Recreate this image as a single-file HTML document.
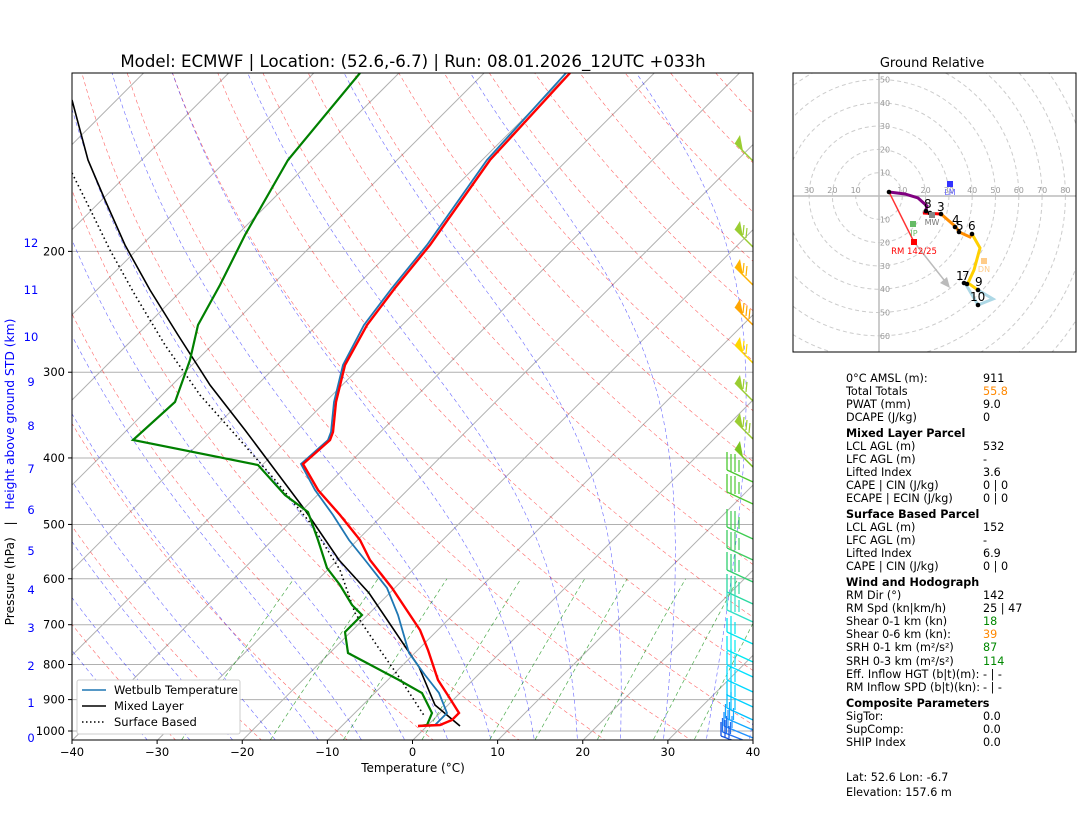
<!DOCTYPE html>
<html><head><meta charset="utf-8"><style>
body{margin:0;background:#fff;width:1084px;height:813px;overflow:hidden;font-family:"Liberation Sans","DejaVu Sans",sans-serif}
svg text{font-family:"DejaVu Sans","Liberation Sans",sans-serif}
</style></head><body>
<svg id="s" width="1084" height="813" xmlns="http://www.w3.org/2000/svg">
<defs><clipPath id="c"><rect x="72" y="73" width="681" height="667"/></clipPath>
<clipPath id="h"><rect x="793" y="73" width="283" height="279"/></clipPath></defs>
<g id="bg" clip-path="url(#c)"></g>
<g id="fg" clip-path="url(#c)"></g>
<rect x="72" y="73" width="681" height="667" fill="none" stroke="#000" stroke-width="1"/>
<g id="ax" font-size="11.5"></g>
<text x="413" y="67" font-size="16.6" text-anchor="middle">Model: ECMWF | Location: (52.6,-6.7) | Run: 08.01.2026_12UTC +033h</text>
<text x="413" y="772" font-size="12" text-anchor="middle">Temperature (°C)</text>
<text transform="translate(14,472) rotate(-90)" font-size="12.3" text-anchor="middle" xml:space="preserve">Pressure (hPa)   |   <tspan fill="#00f">Height above ground STD (km)</tspan></text>
<g id="hod" clip-path="url(#h)"></g>
<rect x="793" y="73" width="283" height="279" fill="none" stroke="#000"/>
<text x="932" y="67" font-size="13" text-anchor="middle">Ground Relative</text>
<g id="leg">
<rect x="77" y="680" width="163" height="54" fill="#fff" stroke="#ccc" rx="2"/>
<line x1="82" y1="690" x2="106" y2="690" stroke="#1f77b4" stroke-width="1.5"/>
<line x1="82" y1="706" x2="106" y2="706" stroke="#000" stroke-width="1.5"/>
<line x1="82" y1="722" x2="106" y2="722" stroke="#000" stroke-width="1.5" stroke-dasharray="1.5,2.5"/>
<text x="114" y="694" font-size="11.5">Wetbulb Temperature</text>
<text x="114" y="710" font-size="11.5">Mixed Layer</text>
<text x="114" y="726" font-size="11.5">Surface Based</text>
</g>
<g id="tx" font-size="11.2"></g>
</svg>
<script>
const NS="http://www.w3.org/2000/svg";
function el(p,t,a,txt){const e=document.createElementNS(NS,t);for(const k in a)e.setAttribute(k,a[k]);if(txt!=null)e.textContent=txt;document.getElementById(p).appendChild(e);return e;}
const yP=p=>731-298*Math.log(1000/p);
const xT=(T,p)=>413+T*8.5125+(740-yP(p));
function line(g,pts,st){el(g,'polyline',Object.assign({points:pts.map(q=>q[0].toFixed(1)+','+q[1].toFixed(1)).join(' '),fill:'none'},st));}
const ps=[];for(let p=1050;p>=100;p-=10)ps.push(p);
[1000,900,800,700,600,500,400,300,200].forEach(p=>el('bg','line',{x1:72,x2:753,y1:yP(p),y2:yP(p),stroke:'#b0b0b0','stroke-width':1}));
for(let T=-120;T<=50;T+=10)line('bg',[[xT(T,1050),yP(1050)],[xT(T,100),yP(100)]],{stroke:'#b0b0b0','stroke-width':1});
for(let th=-30;th<=250;th+=10){const pts=ps.map(p=>{const T=(th+273.15)*Math.pow(p/1000,0.286)-273.15;return[xT(T,p),yP(p)]});line('bg',pts,{stroke:'#f00','stroke-width':0.6,'stroke-dasharray':'4,3',opacity:0.6});}
const es=T=>6.112*Math.exp(17.67*T/(T+243.5));
for(let T0=-30;T0<=45;T0+=5){let T=T0+273.15,pts=[];for(let p=1050;p>=100;p-=2){pts.push([xT(T-273.15,p),yP(p)]);const e=es(T-273.15),rs=0.622*e/(p-e);const d=(287*T+2.501e6*rs)/(1005+2.501e6*2.501e6*rs*0.622/(287*T*T))/p;T-=d*2;}line('bg',pts,{stroke:'#00f','stroke-width':0.6,'stroke-dasharray':'4,3',opacity:0.6});}
[0.4,1,2,4,7,10,16,24,32].forEach(w=>{const pts=[];for(let p=1050;p>=600;p-=10){const e=w/1000*p/(0.622+w/1000),l=Math.log(e/6.112);const Td=243.5*l/(17.67-l);pts.push([xT(Td,p),yP(p)]);}line('bg',pts,{stroke:'#080','stroke-width':0.7,'stroke-dasharray':'4,3',opacity:0.7});});
line('fg',[[72,173],[88,205],[110,250],[135,295],[165,345],[200,395],[240,440],[275,480],[312,525],[340,570],[355,613],[380,650],[399,677],[425,717]],{stroke:'#000','stroke-width':1.6,'stroke-dasharray':'1.5,3'});
line('fg',[[72,100],[88,160],[105,200],[125,245],[150,290],[178,335],[210,385],[245,430],[275,470],[305,510],[339,560],[369,593],[392,627],[419,667],[435,705],[460,726]],{stroke:'#000','stroke-width':1.6});
line('fg',[[360,73],[288,160],[245,235],[220,285],[198,325],[190,360],[175,402],[133,440],[258,465],[285,495],[308,512],[318,540],[327,568],[340,585],[352,605],[362,615],[345,632],[348,653],[399,680],[422,693],[432,713],[427,725],[419,726]],{stroke:'#008000','stroke-width':2.2});
line('fg',[[566,73],[487,160],[427,245],[392,288],[364,325],[343,365],[334,402],[331,432],[328,440],[301,464],[315,490],[333,515],[349,540],[365,560],[387,588],[398,615],[409,653],[425,675],[439,693],[447,713],[435,725],[419,726]],{stroke:'#1f77b4','stroke-width':1.8});
line('fg',[[570,73],[490,160],[430,245],[395,288],[367,325],[345,365],[336,402],[333,432],[330,440],[303,464],[318,490],[340,515],[360,540],[370,560],[392,588],[404,606],[420,630],[428,650],[433,665],[438,680],[449,697],[459,713],[452,720],[440,725],[418,726]],{stroke:'#f00','stroke-width':2.4});
[[146,'#9acd32'],[232,'#9acd32'],[270,'#ffb300'],[310,'#ffa500'],[348,'#ffd700'],[386,'#9acd32'],[424,'#9acd32'],[452,'#7cc520']].forEach(([y,c],i)=>{
 el('fg','line',{x1:753,y1:y+15,x2:735,y2:y-3,stroke:c,'stroke-width':1.5});
 el('fg','polygon',{points:`735,${y-3} 740,${y-11} 743,${y+5}`,fill:c});
 if(i>0&&i<7){for(let k=0;k<2+(i%3==0?1:0);k++){const bx=746+k*3-3;el('fg','line',{x1:bx,y1:y+6+k*3-3,x2:bx+1,y2:y-4+k*3-3,stroke:c,'stroke-width':1.2});}}
});
const lb=[[470,'#4cc830'],[492,'#4cc830'],[527,'#3dcc50'],[548,'#3dcc60'],[570,'#30d070'],[592,'#2ad8a0'],[610,'#30e0c8'],[632,'#00e5ee'],[650,'#00e8f0'],[665,'#00e0ff'],[680,'#00d8ff'],[695,'#00d0ff'],[708,'#00c0ff'],[718,'#10a8ff'],[726,'#2090ff'],[732,'#2070f0'],[736,'#1050e0']];
lb.forEach(([y,c],i)=>{const x0=727+(i>12?(i-12)*-1.5:0);
 el('fg','line',{x1:753,y1:y+12,x2:x0,y2:y,stroke:c,'stroke-width':1.3});
 el('fg','line',{x1:x0,y1:y,x2:x0,y2:y-(i<7?18:14),stroke:c,'stroke-width':1.3});
 const n=i<7?3:2;for(let k=1;k<=n;k++){el('fg','line',{x1:x0+k*4,y1:y+2,x2:x0+k*4,y2:y-16+(k==n?6:0),stroke:c,'stroke-width':1.2});}
});
for(let T=-40;T<=40;T+=10){const x=72+(T+40)*8.5125;el('ax','line',{x1:x,x2:x,y1:740,y2:744,stroke:'#000'});el('ax','text',{x:x,y:756,'text-anchor':'middle'},T<0?'−'+(-T):T);}
[1000,900,800,700,600,500,400,300,200].forEach(p=>{el('ax','line',{x1:68,x2:72,y1:yP(p),y2:yP(p),stroke:'#000'});el('ax','text',{x:65,y:yP(p)+4,'text-anchor':'end'},p);});
[[0,738],[1,703],[2,666],[3,628],[4,590],[5,551],[6,510],[7,469],[8,426],[9,382],[10,337],[11,290],[12,243]].forEach(([k,y])=>el('ax','text',{x:31,y:y+4,'text-anchor':'middle',fill:'#00f'},k));
const ox=879,oy=196,sc=2.33;
for(let r=10;r<=120;r+=10)el('hod','circle',{cx:ox,cy:oy,r:r*sc,fill:'none',stroke:'#ccc','stroke-dasharray':'4,3'});
el('hod','line',{x1:793,x2:1076,y1:oy,y2:oy,stroke:'#bbb','stroke-width':1.5});
el('hod','line',{x1:ox,x2:ox,y1:73,y2:352,stroke:'#bbb','stroke-width':1.5});
for(let r=10;r<=80;r+=10){el('hod','text',{x:ox+r*sc,y:oy-3,'font-size':8,fill:'#999','text-anchor':'middle'},r);if(r<=30)el('hod','text',{x:ox-r*sc,y:oy-3,'font-size':8,fill:'#999','text-anchor':'middle'},r);}
for(let r=10;r<=50;r+=10)el('hod','text',{x:ox+6,y:oy-r*sc+3,'font-size':8,fill:'#999','text-anchor':'middle'},r);
for(let r=10;r<=60;r+=10)el('hod','text',{x:ox+6,y:oy+r*sc+3,'font-size':8,fill:'#999','text-anchor':'middle'},r);
line('hod',[[978,290],[993,299],[978,305],[965,283]],{stroke:'#add8e6','stroke-width':3});
line('hod',[[972,234],[980,248],[974,270],[968,283],[978,290]],{stroke:'#ffd000','stroke-width':3});
line('hod',[[941,214],[956,227],[959,232],[970,237],[972,234]],{stroke:'#ff8c00','stroke-width':3});
line('hod',[[923,213],[941,214]],{stroke:'#f00','stroke-width':3});
line('hod',[[889,192],[905,194],[918,198],[927,206],[925,213]],{stroke:'#800080','stroke-width':3});
el('hod','line',{x1:889,y1:192,x2:914,y2:242,stroke:'#f33','stroke-width':1.5});
el('hod','line',{x1:914,y1:242,x2:948,y2:285,stroke:'#bbb','stroke-width':1.5});
el('hod','polygon',{points:'950,288 940,283 947,277',fill:'#bbb'});
[[889,192],[926,211],[930,213],[941,214],[955,227],[959,232],[972,234],[964,283],[967,284],[978,290],[978,305]].forEach(q=>el('hod','circle',{cx:q[0],cy:q[1],r:2.3,fill:'#000'}));
[['8',924,208],['3',937,211],['4',952,224],['5',956,230],['6',968,230],['1',956,280],['7',962,280],['9',975,286],['10',970,301]].forEach(t=>el('hod','text',{x:t[1],y:t[2],'font-size':12},t[0]));
el('hod','rect',{x:947,y:181,width:6,height:6,fill:'#33f'});el('hod','text',{x:950,y:195,'font-size':8,fill:'#66f','text-anchor':'middle'},'LM');
el('hod','rect',{x:910,y:221,width:6,height:6,fill:'#6b6'});el('hod','text',{x:914,y:236,'font-size':8,fill:'#6b6','text-anchor':'middle'},'IP');
el('hod','rect',{x:929,y:212,width:6,height:6,fill:'#888'});el('hod','text',{x:932,y:225,'font-size':8,fill:'#777','text-anchor':'middle'},'MW');
el('hod','rect',{x:911,y:239,width:6,height:6,fill:'#f00'});el('hod','text',{x:914,y:254,'font-size':8.5,fill:'#f00','text-anchor':'middle'},'RM 142/25');
el('hod','rect',{x:981,y:258,width:6,height:6,fill:'#fc8'});el('hod','text',{x:984,y:272,'font-size':8,fill:'#fc8','text-anchor':'middle'},'DN');
const rows=[['0°C AMSL (m):','911',378],['Total Totals','55.8',391,'#f80'],['PWAT (mm)','9.0',404],['DCAPE (J/kg)','0',417],['Mixed Layer Parcel','',433,null,1],['LCL AGL (m)','532',446],['LFC AGL (m)','-',459],['Lifted Index','3.6',472],['CAPE | CIN (J/kg)','0  | 0',485],['ECAPE | ECIN (J/kg)','0  | 0',498],['Surface Based Parcel','',514,null,1],['LCL AGL (m)','152',527],['LFC AGL (m)','-',540],['Lifted Index','6.9',553],['CAPE | CIN (J/kg)','0  | 0',566],['Wind and Hodograph','',582,null,1],['RM Dir (°)','142',595],['RM Spd (kn|km/h)','25 | 47',608],['Shear 0-1 km (kn)','18',621,'#080'],['Shear 0-6 km (kn):','39',634,'#f80'],['SRH 0-1 km (m²/s²)','87',647,'#080'],['SRH 0-3 km (m²/s²)','114',661,'#080'],['Eff. Inflow HGT (b|t)(m):','- | -',674],['RM Inflow SPD (b|t)(kn):','- | -',687],['Composite Parameters','',703,null,1],['SigTor:','0.0',716],['SupComp:','0.0',729],['SHIP Index','0.0',742],['Lat: 52.6  Lon: -6.7','',777],['Elevation: 157.6 m','',792]];
rows.forEach(r=>{const t=el('tx','text',{x:846,y:r[2]+4,'font-weight':r[4]?'bold':'normal'},r[0]);t.setAttribute('xml:space','preserve');if(r[1])el('tx','text',{x:983,y:r[2]+4,fill:r[3]||'#000'},r[1]);});
</script>
</body></html>
